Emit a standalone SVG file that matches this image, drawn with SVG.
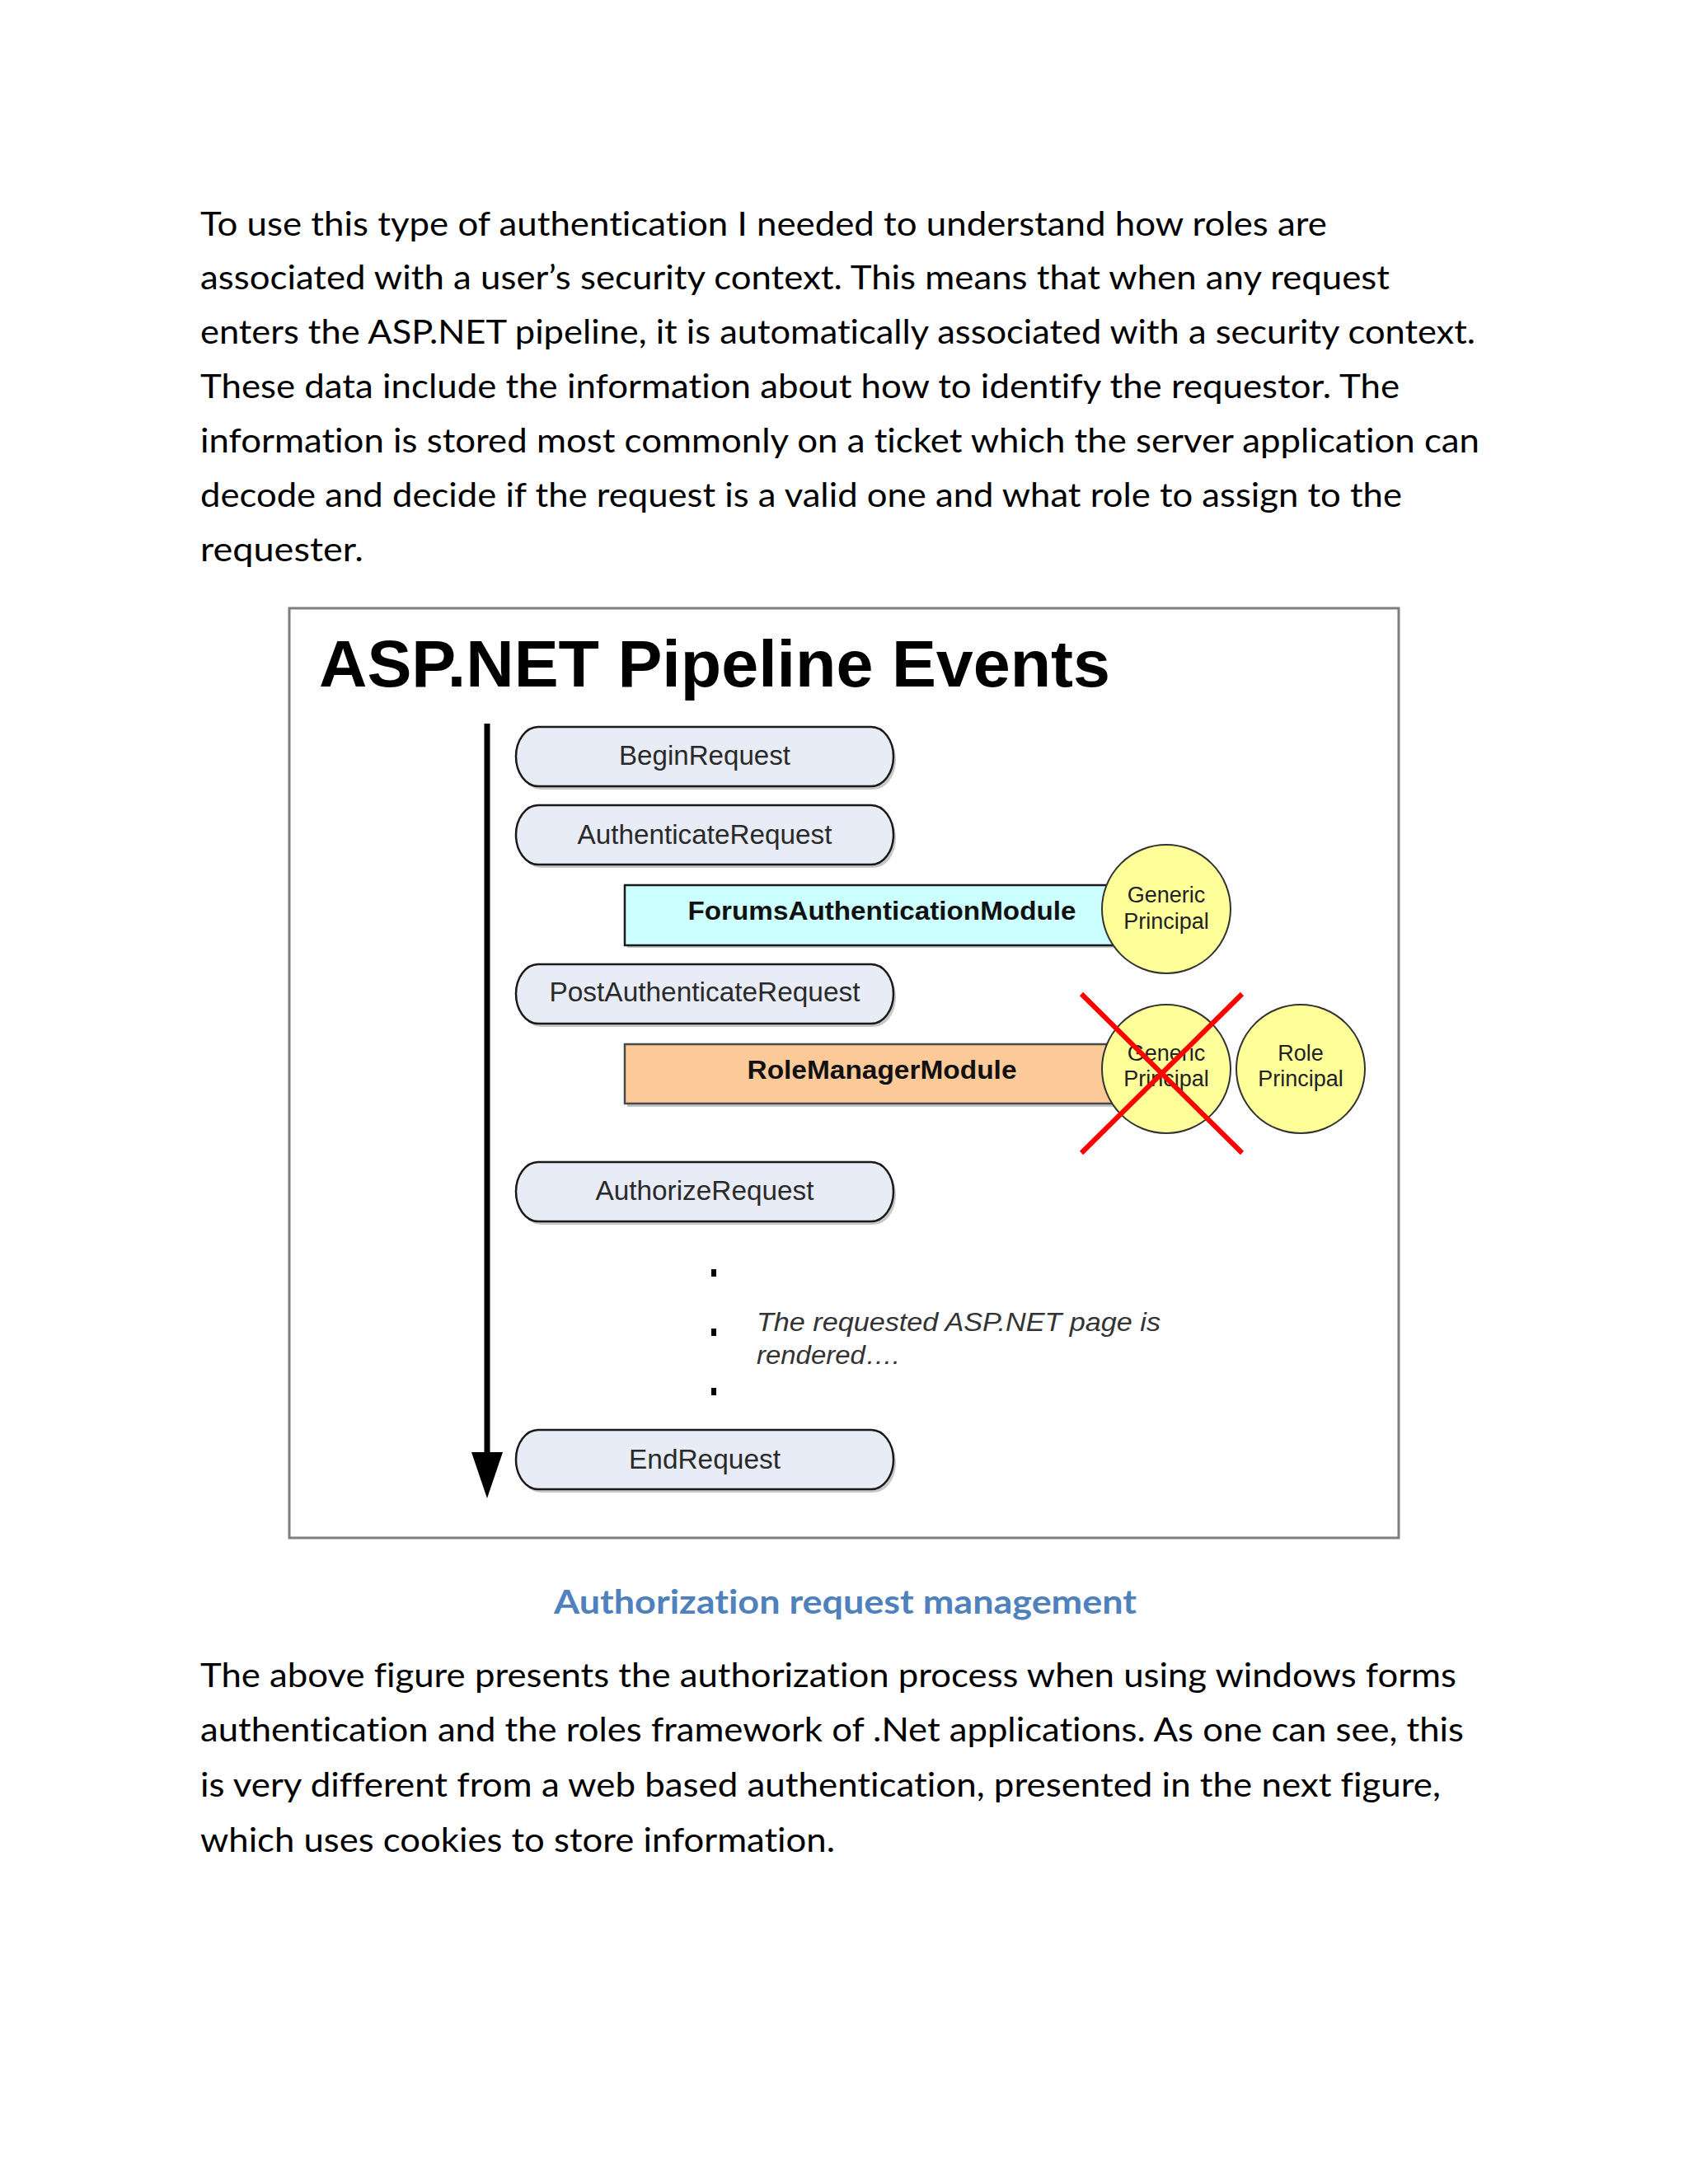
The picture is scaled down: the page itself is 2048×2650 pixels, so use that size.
<svg xmlns="http://www.w3.org/2000/svg" width="2048" height="2650" viewBox="0 0 2048 2650">
<style>
.para{font-family:Lato,"Open Sans","Liberation Sans",sans-serif;font-size:41px;fill:#000;font-variant-ligatures:none}
.cap{font-family:Lato,"Open Sans","Liberation Sans",sans-serif;font-size:41px;font-weight:bold;fill:#4f81bd;font-variant-ligatures:none}
.title{font-family:"Liberation Sans",Arial,sans-serif;font-size:80px;font-weight:bold;fill:#000}
.pill{fill:#e8ecf6;stroke:#1a1a1a;stroke-width:2.5}
.pshadow{fill:#9a9a9a;opacity:0.55}
.ptext{font-family:"Liberation Sans",Arial,sans-serif;font-size:33px;fill:#2a2a2a;text-anchor:middle}
.mtext{font-family:"Liberation Sans",Arial,sans-serif;font-size:31px;font-weight:bold;fill:#111;text-anchor:middle}
.circ{fill:#ffff99;stroke:#333;stroke-width:2}
.ctext{font-family:"Liberation Sans",Arial,sans-serif;font-size:27px;fill:#222;text-anchor:middle}
.itext{font-family:"Liberation Sans",Arial,sans-serif;font-size:31px;font-style:italic;fill:#333}
</style>
<defs>
<marker id="ah" markerUnits="userSpaceOnUse" viewBox="0 -20 57 40" refX="0" refY="0" markerWidth="57" markerHeight="40" orient="auto">
<path d="M0,-19 L56,0 L0,19 z" fill="#000"/>
</marker>
</defs>
<rect x="0" y="0" width="2048" height="2650" fill="#ffffff"/>

<g id="intro-text">
<text class="para" x="243" y="286" textLength="1367" lengthAdjust="spacingAndGlyphs">To use this type of authentication I needed to understand how roles are</text>
<text class="para" x="243" y="351" textLength="1443" lengthAdjust="spacingAndGlyphs">associated with a user’s security context. This means that when any request</text>
<text class="para" x="243" y="417" textLength="1547" lengthAdjust="spacingAndGlyphs">enters the ASP.NET pipeline, it is automatically associated with a security context.</text>
<text class="para" x="243" y="483" textLength="1455" lengthAdjust="spacingAndGlyphs">These data include the information about how to identify the requestor. The</text>
<text class="para" x="243" y="549" textLength="1552" lengthAdjust="spacingAndGlyphs">information is stored most commonly on a ticket which the server application can</text>
<text class="para" x="243" y="615" textLength="1458" lengthAdjust="spacingAndGlyphs">decode and decide if the request is a valid one and what role to assign to the</text>
<text class="para" x="243" y="681" textLength="198" lengthAdjust="spacingAndGlyphs">requester.</text>
</g>

<g id="figure-frame">
<rect x="351" y="738" width="1346" height="1128" fill="#fefefe" stroke="#7f7f7f" stroke-width="3"/>
<text class="title" x="387" y="833" textLength="960" lengthAdjust="spacingAndGlyphs">ASP.NET Pipeline Events</text>
</g>

<g id="connectors">
<line x1="591" y1="878" x2="591" y2="1762" stroke="#000" stroke-width="7" marker-end="url(#ah)"/>
</g>

<g id="node-beginrequest">
<rect class="pshadow" x="629" y="886" width="458" height="72" rx="27" ry="36"/>
<rect class="pill" x="626" y="882" width="458" height="72" rx="27" ry="36"/>
<text class="ptext" x="855" y="928" textLength="208" lengthAdjust="spacingAndGlyphs">BeginRequest</text>
</g>
<g id="node-authenticaterequest">
<rect class="pshadow" x="629" y="981" width="458" height="72" rx="27" ry="36"/>
<rect class="pill" x="626" y="977" width="458" height="72" rx="27" ry="36"/>
<text class="ptext" x="855" y="1024" textLength="309" lengthAdjust="spacingAndGlyphs">AuthenticateRequest</text>
</g>
<g id="node-formsauthmodule">
<rect x="761" y="1077" width="620" height="73" fill="#8a8a8a" opacity="0.5"/>
<rect x="758" y="1074" width="620" height="73" fill="#ccffff" stroke="#1a1a1a" stroke-width="2.5"/>
<text class="mtext" x="1070" y="1116" textLength="471" lengthAdjust="spacingAndGlyphs">ForumsAuthenticationModule</text>
</g>
<g id="node-genericprincipal-1">
<circle class="circ" cx="1415" cy="1103" r="78"/>
<text class="ctext" x="1415" y="1095">Generic</text>
<text class="ctext" x="1415" y="1127">Principal</text>
</g>
<g id="node-postauthenticaterequest">
<rect class="pshadow" x="629" y="1174" width="458" height="72" rx="27" ry="36"/>
<rect class="pill" x="626" y="1170" width="458" height="72" rx="27" ry="36"/>
<text class="ptext" x="855" y="1215" textLength="377" lengthAdjust="spacingAndGlyphs">PostAuthenticateRequest</text>
</g>
<g id="node-rolemanagermodule">
<rect x="761" y="1270" width="620" height="73" fill="#8a8a8a" opacity="0.5"/>
<rect x="758" y="1267" width="620" height="72" fill="#fcc998" stroke="#4a4a4a" stroke-width="2.5"/>
<text class="mtext" x="1070" y="1309" textLength="327" lengthAdjust="spacingAndGlyphs">RoleManagerModule</text>
</g>
<g id="node-genericprincipal-2">
<circle class="circ" cx="1415" cy="1297" r="78"/>
<text class="ctext" x="1415" y="1287">Generic</text>
<text class="ctext" x="1415" y="1318">Principal</text>
</g>
<g id="node-roleprincipal">
<circle class="circ" cx="1578" cy="1297" r="78"/>
<text class="ctext" x="1578" y="1287">Role</text>
<text class="ctext" x="1578" y="1318">Principal</text>
</g>
<g id="cross-out">
<line x1="1312" y1="1206" x2="1507" y2="1399" stroke="#ff0000" stroke-width="6"/>
<line x1="1507" y1="1206" x2="1312" y2="1399" stroke="#ff0000" stroke-width="6"/>
</g>
<g id="node-authorizerequest">
<rect class="pshadow" x="629" y="1414" width="458" height="72" rx="27" ry="36"/>
<rect class="pill" x="626" y="1410" width="458" height="72" rx="27" ry="36"/>
<text class="ptext" x="855" y="1456" textLength="265" lengthAdjust="spacingAndGlyphs">AuthorizeRequest</text>
</g>
<g id="node-rendered">
<rect x="863" y="1540" width="6" height="9" fill="#000"/>
<rect x="863" y="1612" width="6" height="9" fill="#000"/>
<rect x="863" y="1684" width="6" height="9" fill="#000"/>
<text class="itext" x="918" y="1615" textLength="490" lengthAdjust="spacingAndGlyphs">The requested ASP.NET page is</text>
<text class="itext" x="918" y="1655" textLength="174" lengthAdjust="spacingAndGlyphs">rendered….</text>
</g>
<g id="node-endrequest">
<rect class="pshadow" x="629" y="1739" width="458" height="72" rx="27" ry="36"/>
<rect class="pill" x="626" y="1735" width="458" height="72" rx="27" ry="36"/>
<text class="ptext" x="855" y="1782" textLength="184" lengthAdjust="spacingAndGlyphs">EndRequest</text>
</g>

<g id="caption">
<text class="cap" x="672" y="1958" textLength="707" lengthAdjust="spacingAndGlyphs">Authorization request management</text>
</g>

<g id="outro-text">
<text class="para" x="243" y="2047" textLength="1524" lengthAdjust="spacingAndGlyphs">The above figure presents the authorization process when using windows forms</text>
<text class="para" x="243" y="2113" textLength="1533" lengthAdjust="spacingAndGlyphs">authentication and the roles framework of .Net applications. As one can see, this</text>
<text class="para" x="243" y="2180" textLength="1505" lengthAdjust="spacingAndGlyphs">is very different from a web based authentication, presented in the next figure,</text>
<text class="para" x="243" y="2247" textLength="770" lengthAdjust="spacingAndGlyphs">which uses cookies to store information.</text>
</g>
</svg>
